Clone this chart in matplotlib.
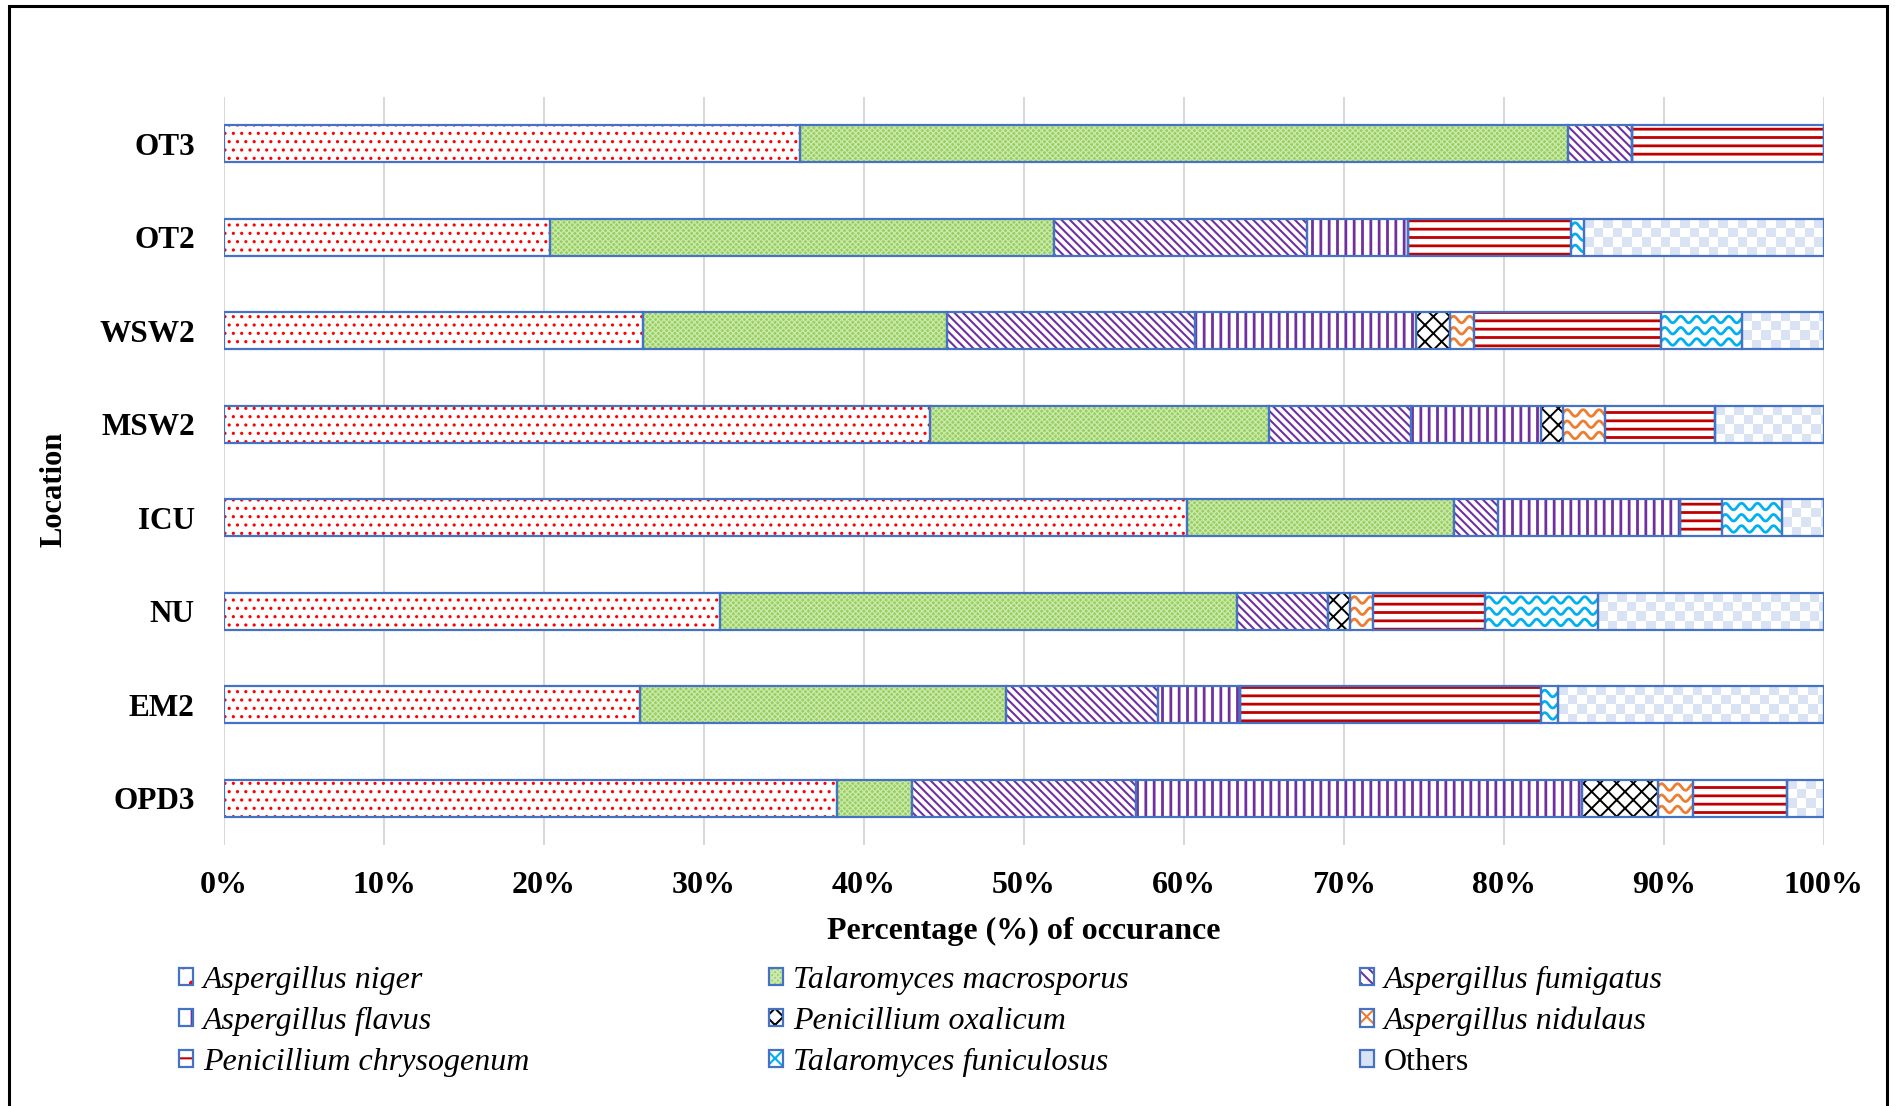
import numpy as np
import matplotlib
matplotlib.use('Agg')
import matplotlib.pyplot as plt
from matplotlib.patches import Patch, Rectangle
from matplotlib.colors import ListedColormap

plt.rcParams['font.family'] = ['Liberation Serif', 'DejaVu Serif']
plt.rcParams['hatch.linewidth'] = 1.5

# occurrence (%) per location, listed top to bottom
locations = ['OT3', 'OT2', 'WSW2', 'MSW2', 'ICU', 'NU', 'EM2', 'OPD3']
a_niger = [36.0, 20.4, 26.2, 44.1, 60.2, 31.0, 26.0, 38.3]
t_macrosporus = [48.0, 31.5, 19.0, 21.2, 16.7, 32.3, 22.9, 4.7]
a_fumigatus = [4.0, 15.8, 15.5, 8.9, 2.7, 5.7, 9.5, 14.0]
a_flavus = [0.0, 6.3, 13.8, 8.1, 11.4, 0.0, 5.1, 27.9]
p_oxalicum = [0.0, 0.0, 2.1, 1.4, 0.0, 1.4, 0.0, 4.7]
a_nidulaus = [0.0, 0.0, 1.5, 2.6, 0.0, 1.4, 0.0, 2.2]
p_chrysogenum = [12.0, 10.2, 11.7, 6.9, 2.6, 7.0, 18.8, 5.9]
t_funiculosus = [0.0, 0.8, 5.1, 0.0, 3.8, 7.1, 1.1, 0.0]
others = [0.0, 15.0, 5.1, 6.8, 2.6, 14.1, 16.6, 2.3]

species = ['Aspergillus niger', 'Talaromyces macrosporus', 'Aspergillus fumigatus',
           'Aspergillus flavus', 'Penicillium oxalicum', 'Aspergillus nidulaus',
           'Penicillium chrysogenum', 'Talaromyces funiculosus', 'Others']
series = [a_niger, t_macrosporus, a_fumigatus, a_flavus, p_oxalicum,
          a_nidulaus, p_chrysogenum, t_funiculosus, others]

# fill, hatch, hatch colour, hatch width, extra texture, legend hatch
styles = [
    ('white', '..', '#ff0000', 1.1, None, '.'),
    ('#98d05e', 'xxxxxx', '#cbe9ae', 0.9, None, 'xxxxxx'),
    ('white', '\\\\\\\\', '#7030a0', 1.5, None, '\\\\\\'),
    ('white', '||', '#7030a0', 2.0, None, '|'),
    ('white', 'xx', '#000000', 1.4, None, 'xx'),
    ('white', '', '#ed7d31', 1.5, 'waves', 'xx'),
    ('white', '--', '#c00000', 2.0, None, '-'),
    ('white', '', '#00b0f0', 1.5, 'waves', 'xx'),
    ('white', '', '#dae3f3', 1.5, 'checks', ''),
]
edge = '#4472c4'

fig = plt.figure(figsize=(18.95, 11.06), dpi=100)
ax = fig.add_subplot(111)
fig.subplots_adjust(left=0.1182, right=0.9625, top=0.9123, bottom=0.2360)

y = np.arange(len(locations))[::-1]
bar_h = 0.4


def add_waves(rects, color):
    for r in rects:
        x0, y0, w, h = r.get_x(), r.get_y(), r.get_width(), r.get_height()
        if w <= 0:
            continue
        xs = np.linspace(x0, x0 + w, max(int(w * 40), 30))
        for f in (0.2, 0.5, 0.8):
            ys = y0 + h * f + 0.035 * np.sin(2 * np.pi * (xs - x0) / 1.0)
            ln, = ax.plot(xs, ys, color=color, lw=2.0, zorder=2)
            ln.set_clip_path(r)


def add_checks(rects, color):
    cw, ch = 0.6, 0.1
    cmap = ListedColormap(['white', color])
    for r in rects:
        x0, y0, w, h = r.get_x(), r.get_y(), r.get_width(), r.get_height()
        if w <= 0:
            continue
        nx = int(np.ceil(w / cw))
        ny = int(np.ceil(h / ch))
        grid = np.add.outer(np.arange(ny), np.arange(nx)) % 2
        im = ax.imshow(grid, cmap=cmap, extent=(x0, x0 + nx * cw, y0, y0 + ny * ch),
                       origin='lower', aspect='auto', interpolation='nearest',
                       zorder=2)
        im.set_clip_path(r)


left = np.zeros(len(locations))
handles = []
for name, vals, (fc, hatch, hc, hlw, extra, lhatch) in zip(species, series, styles):
    vals = np.array(vals)
    with plt.rc_context({'hatch.linewidth': hlw}):
        rects = ax.barh(y, vals, left=left, height=bar_h, color=fc,
                        hatch=hatch, edgecolor=hc, linewidth=0, zorder=2)
        lp = Patch(facecolor=fc if extra != 'checks' else hc,
                   hatch=lhatch, edgecolor=hc, linewidth=0)
    if extra == 'waves':
        add_waves(rects, hc)
    elif extra == 'checks':
        add_checks(rects, hc)
    ax.barh(y, vals, left=left, height=bar_h, facecolor='none',
            edgecolor=edge, linewidth=1.6, zorder=3)
    handles.append((lp, Patch(facecolor='none', edgecolor=edge, linewidth=1.6)))
    left += vals

ax.set_xlim(0, 100)
ax.set_ylim(-0.5, len(locations) - 0.5)
ax.set_xticks(np.arange(0, 101, 10))
ax.set_xticklabels([f'{v}%' for v in range(0, 101, 10)], fontsize=23, fontweight='bold')
ax.set_yticks(y)
ax.set_yticklabels(locations, fontsize=22.5, fontweight='bold')
ax.tick_params(length=0)
ax.tick_params(axis='x', pad=19)
ax.tick_params(axis='y', pad=21)
ax.grid(axis='x', color='#d9d9d9', linewidth=1.5)
ax.set_axisbelow(True)
for s in ax.spines.values():
    s.set_visible(False)

ax.set_xlabel('Percentage (%) of occurance', fontsize=23, fontweight='bold', va='center')
ax.xaxis.set_label_coords(0.5, -0.1150)
ax.set_ylabel('Location', fontsize=22, fontweight='bold', va='center')
ax.yaxis.set_label_coords(-0.1063, 0.475)

# three legend columns, filled row by row
col_x = [179, 769, 1360]
for c in range(3):
    idx = [c, c + 3, c + 6]
    leg = fig.legend([handles[i] for i in idx], [species[i] for i in idx],
                     loc='upper left', bbox_to_anchor=(col_x[c] / 1895, 1 - 966 / 1106),
                     bbox_transform=fig.transFigure, frameon=False, borderpad=0,
                     borderaxespad=0, handlelength=0.45, handleheight=0.45,
                     handletextpad=0.3, labelspacing=0.37,
                     prop={'size': 23, 'style': 'italic'})
    for t in leg.get_texts():
        if t.get_text() == 'Others':
            t.set_fontstyle('normal')

fig.add_artist(Rectangle((9 / 1895, -0.01), (1887 - 9) / 1895, 1 - 6 / 1106 + 0.01,
                         transform=fig.transFigure, fill=False, linewidth=2.2,
                         edgecolor='black'))

fig.savefig('out.png', dpi=100)
